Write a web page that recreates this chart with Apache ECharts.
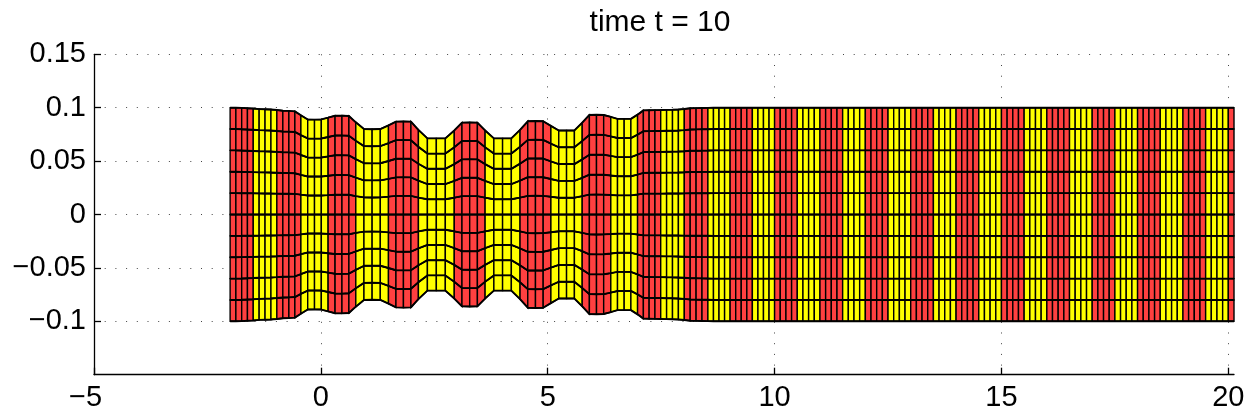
<!DOCTYPE html>
<html>
<head>
<meta charset="utf-8">
<script src="https://cdn.jsdelivr.net/npm/echarts@6/dist/echarts.min.js"></script>
<style>
  html, body { margin: 0; padding: 0; background: #fff; }
  #chart { width: 1249px; height: 417px; }
</style>
</head>
<body>
<div id="chart"></div>
<script>
// deformed mesh, time t = 10
var titleText = 'time t = 10';
var xTicks = [-5, 0, 5, 10, 15, 20];
var yTicks = [-0.1, -0.05, 0, 0.05, 0.1, 0.15];

// x position of every node column (4 cells per colour band)
var nodeX = [
  -2.000, -1.873, -1.745, -1.618,  -1.490, -1.360, -1.230, -1.100,
  -0.970, -0.838, -0.705, -0.573,  -0.440, -0.290, -0.140, 0.010,
  0.160, 0.313, 0.465, 0.618,      0.770, 0.950, 1.130, 1.310,
  1.490, 1.655, 1.820, 1.985,      2.150, 2.348, 2.545, 2.743,
  2.940, 3.110, 3.280, 3.450,      3.620, 3.813, 4.005, 4.198,
  4.390, 4.560, 4.730, 4.900,      5.070, 5.243, 5.415, 5.588,
  5.760, 5.918, 6.075, 6.233,      6.390, 6.538, 6.685, 6.833,
  6.980, 7.108, 7.235, 7.363,      7.490, 7.620, 7.750, 7.880,
  8.010, 8.140, 8.270, 8.400,      8.530, 8.653, 8.775, 8.898,
  9.020, 9.143, 9.265, 9.388,      9.510, 9.633, 9.755, 9.878,
  10.000, 10.125, 10.250, 10.375,  10.500, 10.625, 10.750, 10.875,
  11.000, 11.125, 11.250, 11.375,  11.500, 11.625, 11.750, 11.875,
  12.000, 12.125, 12.250, 12.375,  12.500, 12.625, 12.750, 12.875,
  13.000, 13.125, 13.250, 13.375,  13.500, 13.625, 13.750, 13.875,
  14.000, 14.125, 14.250, 14.375,  14.500, 14.625, 14.750, 14.875,
  15.000, 15.125, 15.250, 15.375,  15.500, 15.625, 15.750, 15.875,
  16.000, 16.125, 16.250, 16.375,  16.500, 16.625, 16.750, 16.875,
  17.000, 17.125, 17.250, 17.375,  17.500, 17.625, 17.750, 17.875,
  18.000, 18.125, 18.250, 18.375,  18.500, 18.625, 18.750, 18.875,
  19.000, 19.125, 19.250, 19.375,  19.500, 19.625, 19.750, 19.875,
  20.000, 20.125
];

// half thickness of the strip at every node column
var nodeH = [
  0.1000, 0.1000, 0.0998, 0.0995,  0.0992, 0.0987, 0.0985, 0.0983,
  0.0978, 0.0972, 0.0970, 0.0966,  0.0929, 0.0890, 0.0888, 0.0890,
  0.0907, 0.0925, 0.0926, 0.0922,  0.0863, 0.0800, 0.0798, 0.0800,
  0.0835, 0.0870, 0.0872, 0.0870,  0.0792, 0.0713, 0.0713, 0.0713,
  0.0787, 0.0860, 0.0862, 0.0860,  0.0787, 0.0713, 0.0713, 0.0713,
  0.0793, 0.0873, 0.0875, 0.0873,  0.0830, 0.0787, 0.0787, 0.0787,
  0.0860, 0.0932, 0.0934, 0.0932,  0.0914, 0.0895, 0.0895, 0.0895,
  0.0935, 0.0975, 0.0976, 0.0977,  0.0978, 0.0980, 0.0981, 0.0983,
  0.0988, 0.0995, 0.0996, 0.0997,  0.0998, 0.1000, 0.1000, 0.1000,
  0.1, 0.1, 0.1, 0.1,  0.1, 0.1, 0.1, 0.1,
  0.1, 0.1, 0.1, 0.1,  0.1, 0.1, 0.1, 0.1,
  0.1, 0.1, 0.1, 0.1,  0.1, 0.1, 0.1, 0.1,
  0.1, 0.1, 0.1, 0.1,  0.1, 0.1, 0.1, 0.1,
  0.1, 0.1, 0.1, 0.1,  0.1, 0.1, 0.1, 0.1,
  0.1, 0.1, 0.1, 0.1,  0.1, 0.1, 0.1, 0.1,
  0.1, 0.1, 0.1, 0.1,  0.1, 0.1, 0.1, 0.1,
  0.1, 0.1, 0.1, 0.1,  0.1, 0.1, 0.1, 0.1,
  0.1, 0.1, 0.1, 0.1,  0.1, 0.1, 0.1, 0.1,
  0.1, 0.1, 0.1, 0.1,  0.1, 0.1, 0.1, 0.1,
  0.1, 0.1, 0.1, 0.1,  0.1, 0.1, 0.1, 0.1,
  0.1, 0.1
];

// horizontal mesh lines, as fraction of half thickness
var rowLevels = [-1, -0.8, -0.6, -0.4, -0.2, 0, 0.2, 0.4, 0.6, 0.8, 1];

var bandColors = ['#ff4040', '#ffff00'];
var fontName = '"Liberation Sans", Arial, Helvetica, sans-serif';

var cells = [];
for (var i = 0; i < nodeX.length - 1; i++) {
  for (var r = 0; r < rowLevels.length - 1; r++) {
    cells.push([nodeX[i], nodeX[i + 1], nodeH[i], nodeH[i + 1],
                rowLevels[r], rowLevels[r + 1], Math.floor(i / 4) % 2]);
  }
}

function renderCell(params, api) {
  var x0 = api.value(0), x1 = api.value(1);
  var h0 = api.value(2), h1 = api.value(3);
  var f0 = api.value(4), f1 = api.value(5);
  var pts = [
    api.coord([x0, h0 * f0]),
    api.coord([x1, h1 * f0]),
    api.coord([x1, h1 * f1]),
    api.coord([x0, h0 * f1])
  ];
  return {
    type: 'polygon',
    shape: { points: pts },
    style: { fill: bandColors[api.value(6)], stroke: '#000', lineWidth: 1.4 }
  };
}

var series = [{
  type: 'custom',
  renderItem: renderCell,
  data: cells,
  encode: { x: [0, 1], y: 2 },
  silent: true,
  z: 2
}];

rowLevels.forEach(function (f) {
  series.push({
    type: 'line',
    data: nodeX.map(function (x, i) { return [x, nodeH[i] * f]; }),
    showSymbol: false,
    symbol: 'none',
    lineStyle: { color: '#000', width: 1.9 },
    silent: true,
    z: 3
  });
});

function minusText(v) {
  return (v < 0 ? '\u2212' : '') + (+Math.abs(v).toFixed(2));
}

var option = {
  animation: false,
  backgroundColor: '#fff',
  title: {
    text: titleText,
    left: 655,
    textAlign: 'center',
    top: 3,
    textStyle: { fontFamily: fontName, fontSize: 30, fontWeight: 'normal', color: '#000' }
  },
  grid: { left: 94, right: 15, top: 54.3, bottom: 42.3, containLabel: false, outerBoundsMode: 'none' },
  xAxis: {
    type: 'value',
    min: -5,
    max: 20.125,
    interval: 5,
    axisLine: { onZero: false, lineStyle: { color: '#000', width: 1.3 } },
    axisTick: { inside: true, length: 7, customValues: xTicks, lineStyle: { color: '#000', width: 1.3 } },
    axisLabel: {
      customValues: xTicks,
      margin: 9,
      fontFamily: fontName,
      fontSize: 29,
      color: '#000',
      formatter: function (v) {
        return v < 0 ? '{neg|' + minusText(v) + '}' : minusText(v);
      },
      rich: { neg: { padding: [0, 17, 0, 0], fontFamily: fontName, fontSize: 29, color: '#000' } }
    },
    splitLine: { show: true, lineStyle: { color: '#444', width: 1, type: [1, 9.7] } }
  },
  yAxis: {
    type: 'value',
    min: -0.15,
    max: 0.15,
    interval: 0.05,
    axisLine: { onZero: false, lineStyle: { color: '#000', width: 1.3 } },
    axisTick: { inside: true, length: 7, customValues: yTicks, lineStyle: { color: '#000', width: 1.3 } },
    axisLabel: {
      customValues: yTicks,
      margin: 8,
      fontFamily: fontName,
      fontSize: 29,
      color: '#000',
      formatter: minusText
    },
    splitLine: { show: true, lineStyle: { color: '#444', width: 1, type: [1, 9.7] } }
  },
  series: series
};

var myChart = echarts.init(document.getElementById('chart'));
myChart.setOption(option);
</script>
</body>
</html>
